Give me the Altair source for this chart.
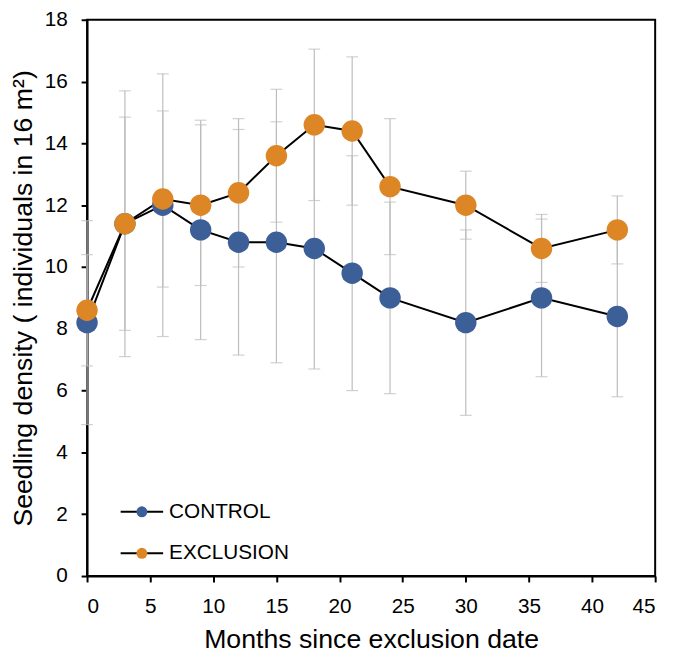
import altair as alt
import pandas as pd

months = [0, 3, 6, 9, 12, 15, 18, 21, 24, 30, 36, 42]
control = [8.2, 11.4, 12.0, 11.2, 10.8, 10.8, 10.6, 9.8, 9.0, 8.2, 9.0, 8.4]
control_err = [3.3, 3.45, 4.25, 3.55, 3.65, 3.9, 3.9, 3.8, 3.1, 3.0, 2.55, 2.6]
exclusion = [8.6, 11.4, 12.2, 12.0, 12.4, 13.6, 14.6, 14.4, 12.6, 12.0, 10.6, 11.2]
exclusion_err = [1.8, 4.3, 2.85, 2.6, 2.4, 2.15, 2.45, 2.4, 2.2, 1.1, 1.1, 1.1]
groups = ["CONTROL", "EXCLUSION"]
colors = ["#3D5F97", "#DC8626"]
x_ticks = [0, 5, 10, 15, 20, 25, 30, 35, 40, 45]
y_ticks = [0, 2, 4, 6, 8, 10, 12, 14, 16, 18]

rows = []
for g, vals, errs in [(groups[0], control, control_err), (groups[1], exclusion, exclusion_err)]:
    for m, v, e in zip(months, vals, errs):
        rows.append({"month": m, "density": v, "lo": v - e, "hi": v + e,
                     "group": g, "series": g})
df = pd.DataFrame(rows)

FONT = "Liberation Sans"
x = alt.X("month:Q", scale=alt.Scale(domain=[0, 45], nice=False),
          axis=alt.Axis(values=x_ticks, title="Months since exclusion date",
                        titleY=72, titleBaseline="alphabetic"))
y_axis = alt.Axis(values=y_ticks, title="Seedling density ( individuals in 16 m\u00b2)",
                  titleX=-56, titleBaseline="alphabetic", titleAngle=270)
yscale = alt.Scale(domain=[0, 18], nice=False)

base = alt.Chart(df)
gray = "#BDBDBD"
rules = base.mark_rule(color=gray, strokeWidth=1.2).encode(
    x=x, y=alt.Y("lo:Q", scale=yscale, axis=y_axis), y2="hi:Q")
caps_lo = base.mark_tick(color=gray, orient="horizontal", size=12, thickness=1.2).encode(
    x=x, y=alt.Y("lo:Q", scale=yscale, axis=y_axis))
caps_hi = base.mark_tick(color=gray, orient="horizontal", size=12, thickness=1.2).encode(
    x=x, y=alt.Y("hi:Q", scale=yscale, axis=y_axis))

LEG_X, LEG_Y, ROW_H = 33, 477, 42

lines = base.mark_line(strokeWidth=2).encode(
    x=x, y=alt.Y("density:Q", scale=yscale, axis=y_axis),
    stroke=alt.Stroke("series:N", scale=alt.Scale(range=["black", "black"]),
                      legend=alt.Legend(title=None, orient="none", legendX=LEG_X, legendY=LEG_Y,
                                        symbolType="stroke", symbolSize=1849,
                                        symbolStrokeWidth=2, symbolStrokeColor="black",
                                        labelFont=FONT, labelFontSize=21, labelColor="black",
                                        labelOffset=5, rowPadding=0, padding=0,
                                        clipHeight=ROW_H, symbolOffset=0)),
    detail="series:N")

points = base.mark_circle(size=470, opacity=1).encode(
    x=x, y=alt.Y("density:Q", scale=yscale, axis=y_axis),
    fill=alt.Fill("group:N", scale=alt.Scale(range=colors),
                  legend=alt.Legend(title=None, orient="none", legendX=LEG_X, legendY=LEG_Y,
                                    symbolType="circle", symbolSize=121,
                                    symbolStrokeWidth=0, labelFont=FONT, labelFontSize=21,
                                    labelExpr="''", labelOffset=5, rowPadding=0,
                                    padding=0, clipHeight=ROW_H, symbolOffset=12)),
    order=alt.Order("group:N"))

chart = alt.layer(rules, caps_lo, caps_hi, lines, points).resolve_scale(
    stroke="independent", fill="independent"
).properties(
    width=575, height=563,
    background="white",
    autosize=alt.AutoSizeParams(type="none"),
    padding={"left": 80, "top": 8, "right": 14, "bottom": 74},
).configure_view(stroke="black", strokeWidth=2).configure_axis(
    grid=False, domainColor="black", domainWidth=2, tickColor="black", tickWidth=2,
    tickSize=6, labelFont=FONT, labelFontSize=21, labelColor="black", labelPadding=14,
    titleFont=FONT, titleFontSize=27, titleFontWeight="normal", titleColor="black",
)

chart.save("out.html", embed_options={"renderer": "svg", "actions": False})
